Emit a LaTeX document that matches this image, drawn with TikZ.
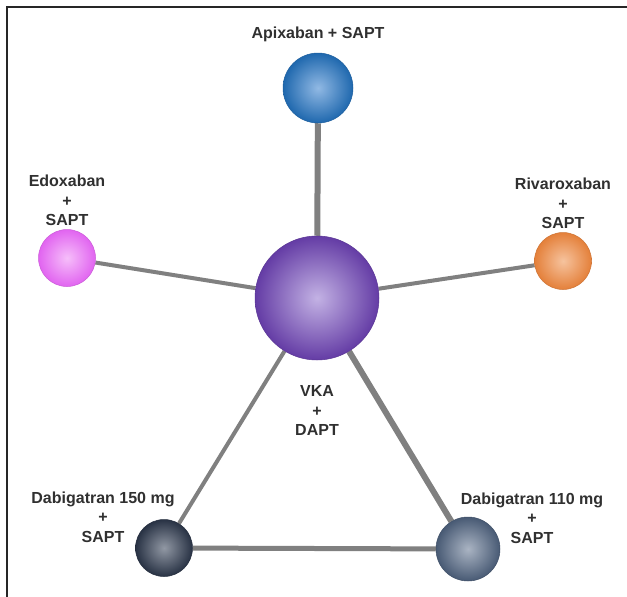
\documentclass[tikz,border=0pt]{standalone}
\usepackage{fontspec}
\setmainfont{Liberation Sans}
\usetikzlibrary{backgrounds}

\definecolor{edgegray}{RGB}{128,128,128}
\definecolor{txtgray}{RGB}{48,48,48}
\definecolor{vkaout}{RGB}{100,60,165}
\definecolor{vkain}{RGB}{195,178,228}
\definecolor{apixout}{RGB}{31,104,174}
\definecolor{apixin}{RGB}{145,185,228}
\definecolor{edoxout}{RGB}{225,100,240}
\definecolor{edoxin}{RGB}{246,190,250}
\definecolor{rivaout}{RGB}{228,128,58}
\definecolor{rivain}{RGB}{246,195,158}
\definecolor{dabaout}{RGB}{40,50,68}
\definecolor{dabain}{RGB}{145,152,164}
\definecolor{dabbout}{RGB}{72,90,116}
\definecolor{dabbin}{RGB}{170,180,195}

\tikzset{
  trt/.style={circle, inner sep=0pt, line width=0.5pt},
  lbl/.style={align=center},
  edge/.style={draw=edgegray, line width=4pt}
}

\begin{document}
\begin{tikzpicture}[x=1pt, y=-1pt, font=\fontsize{16}{19.5}\selectfont\bfseries, text=txtgray]

\useasboundingbox (0,0) rectangle (627,597);
\draw[line width=2pt, black!85] (7,597) -- (7,7) -- (627,7);

\node[trt, minimum size=124pt, draw=vkaout!90!black, inner color=vkain, outer color=vkaout,
  label={[lbl, label distance=22pt]below:VKA\\+\\DAPT}] (vka) at (317,298) {};

\node[trt, minimum size=70pt, draw=apixout!90!black, inner color=apixin, outer color=apixout,
  label={[label distance=7pt]above:Apixaban + SAPT}] (apix) at (318,88) {};

\node[trt, minimum size=57pt, draw=edoxout!90!black, inner color=edoxin, outer color=edoxout,
  label={[lbl]above:Edoxaban\\+\\SAPT}] (edox) at (67,258) {};

\node[trt, minimum size=57pt, draw=rivaout!90!black, inner color=rivain, outer color=rivaout,
  label={[lbl]above:Rivaroxaban\\+\\SAPT}] (riva) at (563,261) {};

\node[trt, minimum size=57pt, draw=dabaout!90!black, inner color=dabain, outer color=dabaout] (dab150) at (164,548) {};
\node[lbl] (dab150txt) at (103,517) {Dabigatran 150 mg\\+\\SAPT};

\node[trt, minimum size=64pt, draw=dabbout!90!black, inner color=dabbin, outer color=dabbout] (dab110) at (468,549) {};
\node[lbl] (dab110txt) at (532,518) {Dabigatran 110 mg\\+\\SAPT};

\begin{scope}[on background layer]
\draw[edge, line width=6pt] (vka) -- (apix);
\draw[edge] (vka) -- (edox);
\draw[edge] (vka) -- (riva);
\draw[edge] (vka) -- (dab150);
\draw[edge, line width=6pt] (vka) -- (dab110);
\draw[edge, line width=5pt] (dab150) -- (dab110);
\end{scope}

\end{tikzpicture}
\end{document}
